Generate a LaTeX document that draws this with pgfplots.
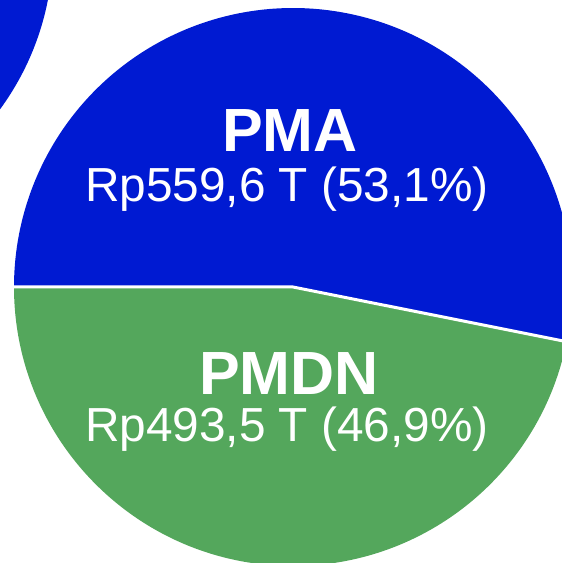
\documentclass[border=0pt]{standalone}
\usepackage{pgfplots}
\usepackage{pgfplotstable}
\pgfplotsset{compat=1.18}
\usepackage{fontspec}
\setmainfont{Liberation Sans}
\definecolor{pmablue}{RGB}{0,26,210}
\definecolor{pmdngreen}{RGB}{84,167,92}
\pgfplotstableread{
party value
PMA 559.6
PMDN 493.5
}\datatable
\pgfplotstablegetelem{0}{value}\of\datatable \let\va\pgfplotsretval
\pgfplotstablegetelem{1}{value}\of\datatable \let\vb\pgfplotsretval
\pgfmathsetmacro\shareA{\va/(\va+\vb)}
\pgfmathsetmacro\angA{180-360*\shareA}
\begin{document}
\begin{tikzpicture}
\begin{axis}[
  scale only axis, width=281pt, height=281.5pt,
  xmin=0, xmax=562, ymin=0, ymax=563,
  hide axis, clip=true,
]
% neighbouring pie (partly visible, top-left)
\fill[pmablue] (axis cs:-222,616) circle[radius=137.5pt];
% main pie
\fill[pmablue]
  (axis cs:293,276) -- ++(\angA:139.5pt) arc[start angle=\angA, end angle=180, radius=139.5pt] -- cycle;
\fill[pmdngreen]
  (axis cs:293,276) -- ++(180:139.5pt) arc[start angle=180, end angle=360+\angA, radius=139.5pt] -- cycle;
\draw[white, line width=1.5pt] (axis cs:293,276) ++(180:140pt) -- (axis cs:293,276) -- ++(\angA:140pt);
\node[anchor=base, text=white, font=\fontsize{30.5}{36}\selectfont\bfseries] at (axis cs:290,411) {PMA};
\node[anchor=base, text=white, font=\fontsize{23.9}{28}\selectfont] at (axis cs:287,361) {Rp559,6 T (53,1\%)};
\node[anchor=base, text=white, font=\fontsize{30.5}{36}\selectfont\bfseries] at (axis cs:289,168) {PMDN};
\node[anchor=base, text=white, font=\fontsize{23.9}{28}\selectfont] at (axis cs:287,121) {Rp493,5 T (46,9\%)};
\end{axis}
\pgfresetboundingbox
\useasboundingbox (current axis.south west) rectangle (current axis.north east);
\end{tikzpicture}
\end{document}
